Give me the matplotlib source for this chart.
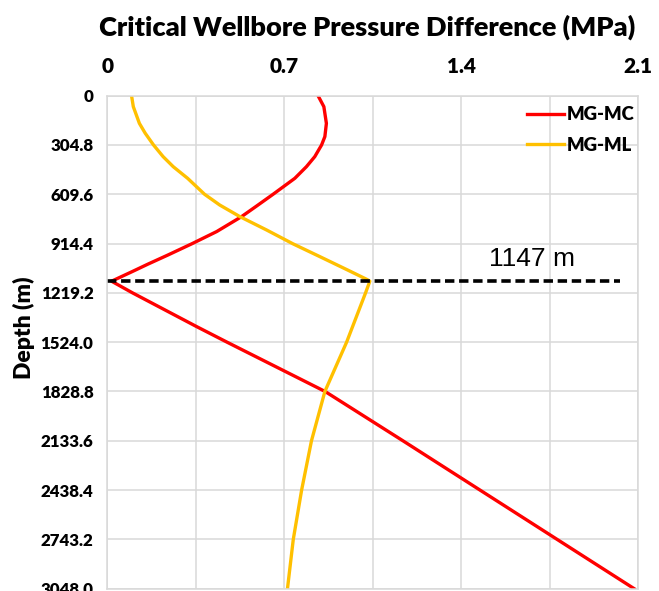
import matplotlib
matplotlib.use('Agg')
import matplotlib.pyplot as plt

plt.rcParams['font.family'] = ['Lato', 'DejaVu Sans']

# MG-MC curve (depth in m, critical pressure difference in MPa)
depth_mc = [0, 68, 171, 253, 304.8, 377, 439, 511, 609.6, 682, 748, 840, 916,
            985, 1042, 1088, 1147, 1219.2, 1428, 1524, 1828.8, 2133.6, 2438.4,
            2743.2, 3048]
mpa_mc = [0.834, 0.857, 0.867, 0.861, 0.848, 0.821, 0.788, 0.742, 0.656, 0.591,
          0.531, 0.433, 0.334, 0.240, 0.160, 0.098, 0.017, 0.10, 0.354, 0.474,
          0.862, 1.17, 1.475, 1.78, 2.085]

# MG-ML curve
depth_ml = [0, 68, 171, 232, 304.8, 377, 439, 511, 609.6, 676, 748, 830, 916,
            995, 1077, 1135, 1147, 1219.2, 1524, 1828.8, 2133.6, 2438.4, 2743.2,
            3048]
mpa_ml = [0.096, 0.103, 0.127, 0.150, 0.183, 0.221, 0.261, 0.318, 0.385, 0.445,
          0.525, 0.630, 0.735, 0.841, 0.950, 1.026, 1.039, 1.022, 0.947, 0.861,
          0.808, 0.769, 0.736, 0.713]

critical_depth = 1147
dash_end = 2.03

x_ticks = [0, 0.35, 0.7, 1.05, 1.4, 1.75, 2.1]
x_labels = ['0', '', '0.7', '', '1.4', '', '2.1']
y_ticks = [0, 304.8, 609.6, 914.4, 1219.2, 1524.0, 1828.8, 2133.6, 2438.4,
           2743.2, 3048.0]
y_labels = ['0', '304.8', '609.6', '914.4', '1219.2', '1524.0', '1828.8',
            '2133.6', '2438.4', '2743.2', '3048.0']

fig = plt.figure(figsize=(6.59, 5.91), dpi=100)
ax = fig.add_axes([0.1628, 0.0039, 0.8053, 0.8342])

ax.plot(mpa_mc, depth_mc, color='#ff0000', lw=2.4, label='MG-MC')
ax.plot(mpa_ml, depth_ml, color='#ffc000', lw=2.4, label='MG-ML')
ax.hlines(critical_depth, 0, dash_end, colors='black',
          linestyles=(0, (2.6, 1.3)), lw=2.6)
ax.text(1.68, 1009, '1147 m', family='Liberation Sans', fontsize=19,
        ha='center', va='center')

ax.set_xlim(0, 2.1)
ax.set_ylim(3048, 0)
ax.xaxis.tick_top()
ax.set_xticks(x_ticks)
ax.set_xticklabels(x_labels, fontsize=15, fontweight='heavy')
ax.set_yticks(y_ticks)
ax.set_yticklabels(y_labels, fontsize=12.2, fontweight='heavy')
ax.tick_params(axis='x', length=0, pad=14)
ax.tick_params(axis='y', length=0, pad=10)
ax.grid(color='#d9d9d9', lw=1.1)
ax.set_axisbelow(True)
for s in ax.spines.values():
    s.set_color('#d9d9d9')
    s.set_linewidth(1.1)

fig.text(367 / 659, 1 - 27 / 591, 'Critical Wellbore Pressure Difference (MPa)',
         fontsize=19.5, fontweight='heavy', ha='center', va='center')
fig.text(24 / 659, 1 - 328 / 591, 'Depth (m)', rotation=90, fontsize=16.5,
         fontweight='heavy', ha='center', va='center')

ax.legend(loc='upper left', bbox_to_anchor=(527 / 659, 1 - 106 / 591),
          bbox_transform=fig.transFigure, frameon=False, borderpad=0,
          borderaxespad=0, handlelength=2.0, handletextpad=0.15,
          labelspacing=0.75, prop={'weight': 'heavy', 'size': 13.3})

fig.savefig('out.png', dpi=100)
